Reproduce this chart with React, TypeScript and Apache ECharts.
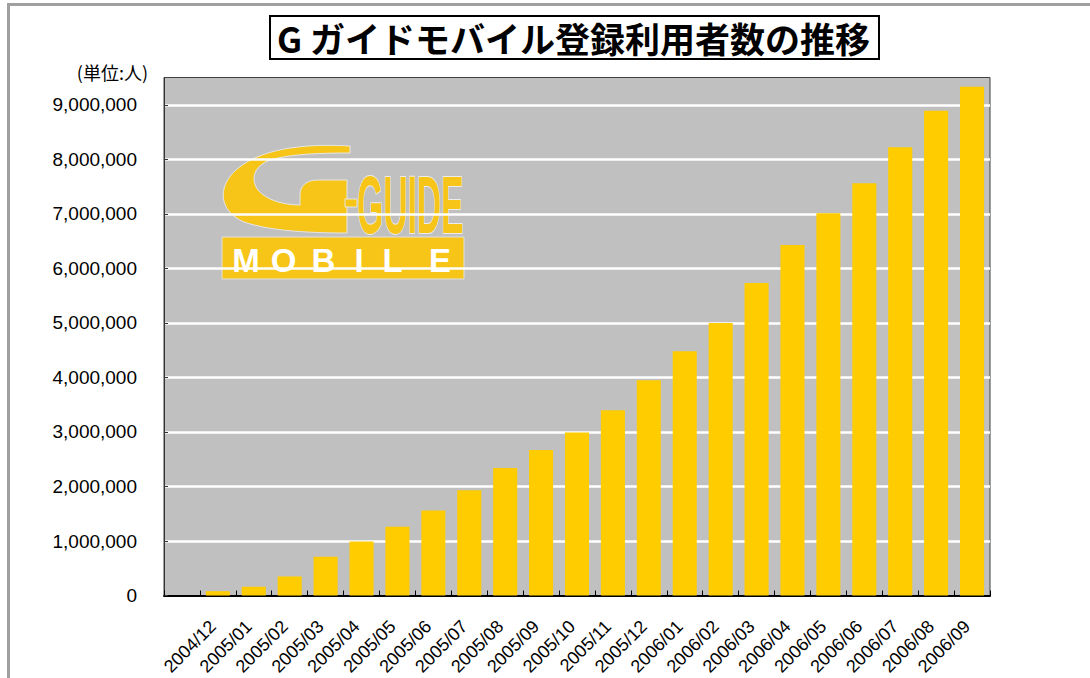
import React, { useEffect, useRef } from "react";
import * as echarts from "echarts";

const months = [
  "",
  "2004/12",
  "2005/01", "2005/02", "2005/03", "2005/04", "2005/05", "2005/06",
  "2005/07", "2005/08", "2005/09", "2005/10", "2005/11", "2005/12",
  "2006/01", "2006/02", "2006/03", "2006/04", "2006/05", "2006/06",
  "2006/07", "2006/08", "2006/09",
];

const users: (number | null)[] = [
  null,
  80000,
  160000, 350000, 710000, 990000, 1260000, 1560000,
  1930000, 2340000, 2670000, 2990000, 3400000, 3950000,
  4480000, 5000000, 5730000, 6430000, 7010000, 7560000,
  8220000, 8890000, 9330000,
];

const yMin = 0;
const yMax = 9500000;
const yStep = 1000000;

const titleText = "G ガイドモバイル登録利用者数の推移";
const unitText = "(単位:人)";
const logoWord = "GUIDE";
const logoSub = ["M", "O", "B", "I", "L", "E"];

const G_PATH =
  "M350,146 C300,143 258,150 236,170 C216,188 220,212 244,222 C270,231 310,233 347,233 L347,180 L318,180 C306,180 300,186 300,195 L300,205 C284,205 266,200 258,190 C250,179 254,166 270,160 C290,154 320,153 350,153 Z";

let registered = false;
function ensureShapes() {
  if (registered) return;
  echarts.graphic.registerShape("gswoosh", echarts.graphic.extendPath(G_PATH, {}));
  registered = true;
}

export default function App() {
  const ref = useRef<HTMLDivElement>(null);
  useEffect(() => {
    if (!ref.current) return;
    ensureShapes();
    const chart = echarts.init(ref.current, null, { renderer: "svg" });
    const logoYellow = "#F6C517";
    const subX = [246, 283.5, 323.5, 359, 392.5, 440];
    chart.setOption({
      animation: false,
      backgroundColor: "#ffffff",
      title: {
        text: titleText,
        left: 270,
        top: 16,
        padding: [4, 9, 4, 7],
        borderColor: "#000",
        borderWidth: 2,
        textStyle: {
          fontSize: 35,
          fontWeight: "bold",
          fontFamily: "Noto Sans CJK JP",
          color: "#000",
        },
      },
      grid: {
        left: 164,
        right: 100,
        top: 77.5,
        bottom: 82,
        show: true,
        backgroundColor: "#C0C0C0",
        borderColor: "#404040",
        borderWidth: 1,
        containLabel: false,
      },
      xAxis: {
        type: "category",
        data: months,
        boundaryGap: true,
        axisLine: { show: true, lineStyle: { color: "#000", width: 2 } },
        axisTick: { show: true, inside: true, length: 5, lineStyle: { color: "#000", width: 1 } },
        axisLabel: {
          interval: 0,
          rotate: 45,
          margin: 23,
          padding: [0, 7, 0, 0],
          fontSize: 18,
          color: "#000",
          fontFamily: "Liberation Sans",
        },
        splitLine: { show: false },
      },
      yAxis: {
        type: "value",
        min: yMin,
        max: yMax,
        interval: yStep,
        axisLine: { show: true, lineStyle: { color: "#333", width: 1 } },
        axisTick: { show: true, inside: true, length: 4, lineStyle: { color: "#333" } },
        axisLabel: {
          margin: 27,
          fontSize: 19,
          color: "#000",
          fontFamily: "Liberation Sans",
          showMaxLabel: false,
          formatter: (v: number) => (v % yStep === 0 ? v.toLocaleString("en-US") : ""),
        },
        splitLine: {
          show: true,
          showMinLine: false,
          showMaxLine: false,
          lineStyle: { color: "#ffffff", width: 2.5 },
        },
      },
      series: [
        {
          type: "bar",
          data: users,
          barCategoryGap: "33%",
          itemStyle: { color: "#FFCC00" },
        },
      ],
      graphic: [
        {
          type: "rect",
          z: 50,
          silent: true,
          shape: { x: 8.5, y: 4.5, width: 1200, height: 800 },
          style: { fill: "none", stroke: "#A0A0A0", lineWidth: 3 },
        },
        {
          type: "text",
          z: 50,
          x: 148,
          y: 72,
          style: {
            text: unitText,
            fontSize: 18,
            fontFamily: "Noto Sans CJK JP",
            fill: "#000",
            textAlign: "right",
            textVerticalAlign: "middle",
          },
        },
        {
          type: "group",
          z: 60,
          silent: true,
          children: [
            {
              type: "rect",
              shape: { x: 214, y: 140, width: 258, height: 143 },
              style: { fill: "#C0C0C0" },
            },
            {
              type: "gswoosh",
              x: 0,
              y: 0,
              style: { fill: logoYellow, stroke: "#e6e6e6", lineWidth: 1 },
            },
            {
              type: "rect",
              shape: { x: 345, y: 199, width: 12, height: 8 },
              style: { fill: logoYellow, stroke: "#e6e6e6", lineWidth: 1 },
            },
            {
              type: "text",
              x: 357,
              y: 204,
              scaleX: 0.41,
              scaleY: 1,
              style: {
                text: logoWord,
                fontSize: 82,
                fontWeight: "bold",
                fontFamily: "Liberation Sans",
                fill: logoYellow,
                stroke: "#ececec",
                lineWidth: 2,
                textAlign: "left",
                textVerticalAlign: "middle",
              },
            },
            {
              type: "rect",
              shape: { x: 222, y: 237, width: 242, height: 42 },
              style: { fill: logoYellow, stroke: "#e0e0e0", lineWidth: 1 },
            },
            ...logoSub.map((ch, i) => ({
              type: "text",
              x: subX[i],
              y: 260,
              style: {
                text: ch,
                fontSize: 33,
                fontWeight: "bold",
                fontFamily: "Liberation Sans",
                fill: "#ffffff",
                textAlign: "center",
                textVerticalAlign: "middle",
              },
            })),
          ],
        },
      ],
    });
    return () => chart.dispose();
  }, []);
  return (
    <div
      ref={ref}
      style={{ position: "fixed", left: 0, top: 0, width: 1090, height: 678 }}
    />
  );
}
